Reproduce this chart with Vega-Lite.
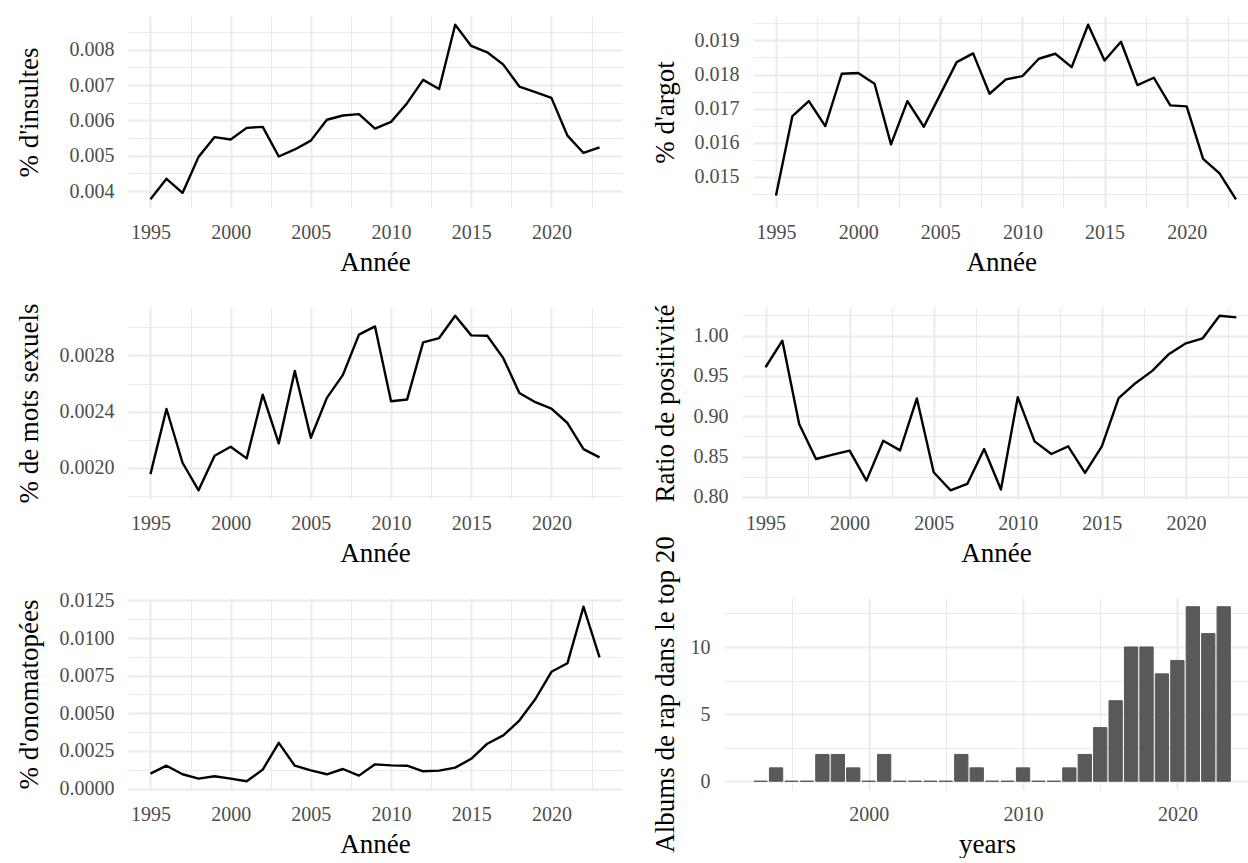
{
  "$schema": "https://vega.github.io/schema/vega-lite/v6.json",
  "background": "white",
  "padding": {"left": 15, "top": 13, "right": 0, "bottom": 0},
  "columns": 2,
  "align": {"row": "all", "column": "none"},
  "bounds": "full",
  "spacing": {"row": -32, "column": 29},
  "datasets": {
    "lyrics": [
      {"year": 1995, "insultes": 0.00377, "argot": 0.014452, "sexuels": 0.001955, "positivite": 0.9608, "onomatopees": 0.00099},
      {"year": 1996, "insultes": 0.00435, "argot": 0.01678, "sexuels": 0.002419, "positivite": 0.9938, "onomatopees": 0.00152},
      {"year": 1997, "insultes": 0.00395, "argot": 0.01722, "sexuels": 0.002036, "positivite": 0.8903, "onomatopees": 0.00095},
      {"year": 1998, "insultes": 0.00497, "argot": 0.016487, "sexuels": 0.00184, "positivite": 0.847, "onomatopees": 0.00066},
      {"year": 1999, "insultes": 0.00553, "argot": 0.018022, "sexuels": 0.002086, "positivite": 0.8524, "onomatopees": 0.00082},
      {"year": 2000, "insultes": 0.00546, "argot": 0.018042, "sexuels": 0.00215, "positivite": 0.8573, "onomatopees": 0.00066},
      {"year": 2001, "insultes": 0.00579, "argot": 0.017729, "sexuels": 0.002067, "positivite": 0.8202, "onomatopees": 0.00049},
      {"year": 2002, "insultes": 0.00582, "argot": 0.015949, "sexuels": 0.002521, "positivite": 0.8697, "onomatopees": 0.00126},
      {"year": 2003, "insultes": 0.00498, "argot": 0.01722, "sexuels": 0.002174, "positivite": 0.8577, "onomatopees": 0.00304},
      {"year": 2004, "insultes": 0.00518, "argot": 0.016467, "sexuels": 0.00269, "positivite": 0.9221, "onomatopees": 0.00152},
      {"year": 2005, "insultes": 0.00543, "argot": 0.017416, "sexuels": 0.002214, "positivite": 0.8305, "onomatopees": 0.00121},
      {"year": 2006, "insultes": 0.00602, "argot": 0.018364, "sexuels": 0.002498, "positivite": 0.8082, "onomatopees": 0.00095},
      {"year": 2007, "insultes": 0.00614, "argot": 0.018619, "sexuels": 0.002662, "positivite": 0.8161, "onomatopees": 0.0013},
      {"year": 2008, "insultes": 0.00618, "argot": 0.017435, "sexuels": 0.002948, "positivite": 0.8594, "onomatopees": 0.00086},
      {"year": 2009, "insultes": 0.00577, "argot": 0.017856, "sexuels": 0.003007, "positivite": 0.8091, "onomatopees": 0.00161},
      {"year": 2010, "insultes": 0.00596, "argot": 0.017954, "sexuels": 0.002474, "positivite": 0.9237, "onomatopees": 0.00154},
      {"year": 2011, "insultes": 0.00649, "argot": 0.018462, "sexuels": 0.002486, "positivite": 0.8689, "onomatopees": 0.00152},
      {"year": 2012, "insultes": 0.00715, "argot": 0.018609, "sexuels": 0.002893, "positivite": 0.8532, "onomatopees": 0.00115},
      {"year": 2013, "insultes": 0.00689, "argot": 0.018218, "sexuels": 0.002924, "positivite": 0.8627, "onomatopees": 0.00119},
      {"year": 2014, "insultes": 0.00871, "argot": 0.01946, "sexuels": 0.003083, "positivite": 0.8297, "onomatopees": 0.00139},
      {"year": 2015, "insultes": 0.00811, "argot": 0.018413, "sexuels": 0.002943, "positivite": 0.8627, "onomatopees": 0.00198},
      {"year": 2016, "insultes": 0.00793, "argot": 0.018961, "sexuels": 0.00294, "positivite": 0.9225, "onomatopees": 0.00298},
      {"year": 2017, "insultes": 0.00758, "argot": 0.017689, "sexuels": 0.002781, "positivite": 0.941, "onomatopees": 0.00353},
      {"year": 2018, "insultes": 0.00696, "argot": 0.017905, "sexuels": 0.002533, "positivite": 0.9563, "onomatopees": 0.00452},
      {"year": 2019, "insultes": 0.0068, "argot": 0.017093, "sexuels": 0.002467, "positivite": 0.9773, "onomatopees": 0.00595},
      {"year": 2020, "insultes": 0.00664, "argot": 0.017064, "sexuels": 0.002421, "positivite": 0.9905, "onomatopees": 0.00776},
      {"year": 2021, "insultes": 0.00557, "argot": 0.015528, "sexuels": 0.002319, "positivite": 0.9967, "onomatopees": 0.00833},
      {"year": 2022, "insultes": 0.00508, "argot": 0.015098, "sexuels": 0.002133, "positivite": 1.0247, "onomatopees": 0.01208},
      {"year": 2023, "insultes": 0.00524, "argot": 0.014335, "sexuels": 0.002074, "positivite": 1.0227, "onomatopees": 0.00871}
    ],
    "albums": [
      {"year": 1993, "albums": 0}, {"year": 1994, "albums": 1}, {"year": 1995, "albums": 0},
      {"year": 1996, "albums": 0}, {"year": 1997, "albums": 2}, {"year": 1998, "albums": 2},
      {"year": 1999, "albums": 1}, {"year": 2000, "albums": 0}, {"year": 2001, "albums": 2},
      {"year": 2002, "albums": 0}, {"year": 2003, "albums": 0}, {"year": 2004, "albums": 0},
      {"year": 2005, "albums": 0}, {"year": 2006, "albums": 2}, {"year": 2007, "albums": 1},
      {"year": 2008, "albums": 0}, {"year": 2009, "albums": 0}, {"year": 2010, "albums": 1},
      {"year": 2011, "albums": 0}, {"year": 2012, "albums": 0}, {"year": 2013, "albums": 1},
      {"year": 2014, "albums": 2}, {"year": 2015, "albums": 4}, {"year": 2016, "albums": 6},
      {"year": 2017, "albums": 10}, {"year": 2018, "albums": 10}, {"year": 2019, "albums": 8},
      {"year": 2020, "albums": 9}, {"year": 2021, "albums": 13}, {"year": 2022, "albums": 11},
      {"year": 2023, "albums": 13}
    ]
  },
  "concat": [
    {
      "width": 494, "height": 192,
      "data": {"name": "lyrics"},
      "mark": {"type": "line", "color": "#000000", "strokeWidth": 2.4, "strokeJoin": "round"},
      "encoding": {
        "x": {"field": "year", "type": "quantitative",
          "scale": {"domain": [1993.6, 2024.4], "nice": false, "zero": false},
          "axis": {"title": "Année", "values": [1995, 1997.5, 2000, 2002.5, 2005, 2007.5, 2010, 2012.5, 2015, 2017.5, 2020, 2022.5],
            "labelExpr": "datum.value % 5 === 0 ? format(datum.value, 'd') : ''",
            "gridWidth": {"condition": {"test": "datum.value % 5 === 0", "value": 2}, "value": 1.1}}},
        "y": {"field": "insultes", "type": "quantitative",
          "scale": {"domain": [0.003523, 0.008957], "nice": false, "zero": false},
          "axis": {"title": "% d'insultes", "minExtent": 75, "maxExtent": 75,
            "values": [0.004, 0.0045, 0.005, 0.0055, 0.006, 0.0065, 0.007, 0.0075, 0.008, 0.0085],
            "labelExpr": "abs(datum.value * 1000 - round(datum.value * 1000)) < 0.001 ? format(datum.value, '.3f') : ''",
            "gridWidth": {"condition": {"test": "abs(datum.value * 1000 - round(datum.value * 1000)) < 0.001", "value": 2}, "value": 1.1}}}
      }
    },
    {
      "width": 496.6, "height": 192,
      "data": {"name": "lyrics"},
      "mark": {"type": "line", "color": "#000000", "strokeWidth": 2.4, "strokeJoin": "round"},
      "encoding": {
        "x": {"field": "year", "type": "quantitative",
          "scale": {"domain": [1993.6, 2023.83], "nice": false, "zero": false},
          "axis": {"title": "Année", "values": [1995, 1997.5, 2000, 2002.5, 2005, 2007.5, 2010, 2012.5, 2015, 2017.5, 2020, 2022.5],
            "labelExpr": "datum.value % 5 === 0 ? format(datum.value, 'd') : ''",
            "gridWidth": {"condition": {"test": "datum.value % 5 === 0", "value": 2}, "value": 1.1}}},
        "y": {"field": "argot", "type": "quantitative",
          "scale": {"domain": [0.014084, 0.019716], "nice": false, "zero": false},
          "axis": {"title": "% d'argot", "minExtent": 63.7, "maxExtent": 63.7,
            "values": [0.0145, 0.015, 0.0155, 0.016, 0.0165, 0.017, 0.0175, 0.018, 0.0185, 0.019, 0.0195],
            "labelExpr": "abs(datum.value * 1000 - round(datum.value * 1000)) < 0.001 ? format(datum.value, '.3f') : ''",
            "gridWidth": {"condition": {"test": "abs(datum.value * 1000 - round(datum.value * 1000)) < 0.001", "value": 2}, "value": 1.1}}}
      }
    },
    {
      "width": 494, "height": 192,
      "data": {"name": "lyrics"},
      "mark": {"type": "line", "color": "#000000", "strokeWidth": 2.4, "strokeJoin": "round"},
      "encoding": {
        "x": {"field": "year", "type": "quantitative",
          "scale": {"domain": [1993.6, 2024.4], "nice": false, "zero": false},
          "axis": {"title": "Année", "values": [1995, 1997.5, 2000, 2002.5, 2005, 2007.5, 2010, 2012.5, 2015, 2017.5, 2020, 2022.5],
            "labelExpr": "datum.value % 5 === 0 ? format(datum.value, 'd') : ''",
            "gridWidth": {"condition": {"test": "datum.value % 5 === 0", "value": 2}, "value": 1.1}}},
        "y": {"field": "sexuels", "type": "quantitative",
          "scale": {"domain": [0.0017779, 0.0031451], "nice": false, "zero": false},
          "axis": {"title": "% de mots sexuels", "minExtent": 75, "maxExtent": 75,
            "values": [0.0018, 0.002, 0.0022, 0.0024, 0.0026, 0.0028, 0.003],
            "labelExpr": "abs(datum.value * 2500 - round(datum.value * 2500)) < 0.001 ? format(datum.value, '.4f') : ''",
            "gridWidth": {"condition": {"test": "abs(datum.value * 2500 - round(datum.value * 2500)) < 0.001", "value": 2}, "value": 1.1}}}
      }
    },
    {
      "width": 507.8, "height": 192,
      "data": {"name": "lyrics"},
      "mark": {"type": "line", "color": "#000000", "strokeWidth": 2.4, "strokeJoin": "round"},
      "encoding": {
        "x": {"field": "year", "type": "quantitative",
          "scale": {"domain": [1993.6, 2023.8], "nice": false, "zero": false},
          "axis": {"title": "Année", "values": [1995, 1997.5, 2000, 2002.5, 2005, 2007.5, 2010, 2012.5, 2015, 2017.5, 2020, 2022.5],
            "labelExpr": "datum.value % 5 === 0 ? format(datum.value, 'd') : ''",
            "gridWidth": {"condition": {"test": "datum.value % 5 === 0", "value": 2}, "value": 1.1}}},
        "y": {"field": "positivite", "type": "quantitative",
          "scale": {"domain": [0.79738, 1.03553], "nice": false, "zero": false},
          "axis": {"title": "Ratio de positivité", "minExtent": 52.5, "maxExtent": 52.5,
            "values": [0.8, 0.825, 0.85, 0.875, 0.9, 0.925, 0.95, 0.975, 1.0, 1.025],
            "labelExpr": "abs(datum.value * 20 - round(datum.value * 20)) < 0.001 ? format(datum.value, '.2f') : ''",
            "gridWidth": {"condition": {"test": "abs(datum.value * 20 - round(datum.value * 20)) < 0.001", "value": 2}, "value": 1.1}}}
      }
    },
    {
      "width": 494, "height": 192,
      "data": {"name": "lyrics"},
      "mark": {"type": "line", "color": "#000000", "strokeWidth": 2.4, "strokeJoin": "round"},
      "encoding": {
        "x": {"field": "year", "type": "quantitative",
          "scale": {"domain": [1993.6, 2024.4], "nice": false, "zero": false},
          "axis": {"title": "Année", "values": [1995, 1997.5, 2000, 2002.5, 2005, 2007.5, 2010, 2012.5, 2015, 2017.5, 2020, 2022.5],
            "labelExpr": "datum.value % 5 === 0 ? format(datum.value, 'd') : ''",
            "gridWidth": {"condition": {"test": "datum.value % 5 === 0", "value": 2}, "value": 1.1}}},
        "y": {"field": "onomatopees", "type": "quantitative",
          "scale": {"domain": [-0.0000948, 0.012661], "nice": false, "zero": false},
          "axis": {"title": "% d'onomatopées", "minExtent": 75, "maxExtent": 75,
            "values": [0, 0.00125, 0.0025, 0.00375, 0.005, 0.00625, 0.0075, 0.00875, 0.01, 0.01125, 0.0125],
            "labelExpr": "abs(datum.value * 400 - round(datum.value * 400)) < 0.001 ? format(datum.value, '.4f') : ''",
            "gridWidth": {"condition": {"test": "abs(datum.value * 400 - round(datum.value * 400)) < 0.001", "value": 2}, "value": 1.1}}}
      }
    },
    {
      "width": 526, "height": 192,
      "data": {"name": "albums"},
      "mark": {"type": "bar", "orient": "vertical", "fill": "#595959", "stroke": "#595959", "strokeWidth": 1, "width": 13.3},
      "encoding": {
        "x": {"field": "year", "type": "quantitative",
          "scale": {"domain": [1990.95, 2024.38], "nice": false, "zero": false},
          "axis": {"title": "years", "values": [1995, 2000, 2005, 2010, 2015, 2020],
            "labelExpr": "datum.value % 10 === 0 ? format(datum.value, 'd') : ''",
            "gridWidth": {"condition": {"test": "datum.value % 10 === 0", "value": 2}, "value": 1.1}}},
        "y": {"field": "albums", "type": "quantitative",
          "scale": {"domain": [-0.65, 13.65], "nice": false, "zero": false},
          "axis": {"title": "Albums de rap dans le top 20", "minExtent": 34.3, "maxExtent": 34.3,
            "values": [0, 2.5, 5, 7.5, 10, 12.5],
            "labelExpr": "datum.value % 5 === 0 ? format(datum.value, 'd') : ''",
            "gridWidth": {"condition": {"test": "datum.value % 5 === 0", "value": 2}, "value": 1.1}}}
      }
    }
  ],
  "config": {
    "font": "Liberation Serif",
    "view": {"stroke": null},
    "axis": {
      "domain": false,
      "ticks": false,
      "grid": true,
      "gridColor": "#EBEBEB",
      "labelFont": "Liberation Serif",
      "labelFontSize": 20,
      "labelColor": "#4D4D4D",
      "labelPadding": 14,
      "labelOverlap": false,
      "labelFlush": false,
      "titleFont": "Liberation Serif",
      "titleFontSize": 27,
      "titleFontWeight": "normal",
      "titleColor": "#000000",
      "titlePadding": 10,
      "titleLimit": 1000
    },
    "axisX": {"minExtent": 34, "maxExtent": 34, "titlePadding": 7.7}
  }
}
